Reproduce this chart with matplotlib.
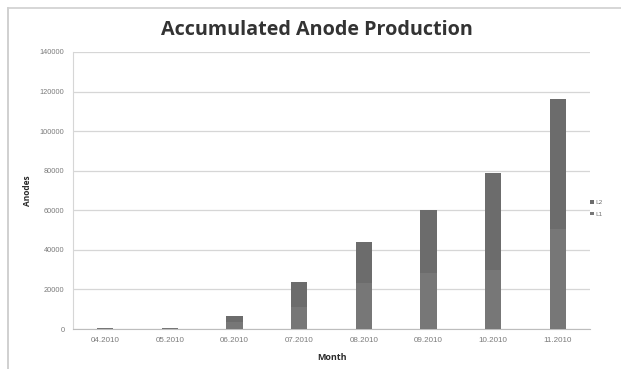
import matplotlib
matplotlib.use("Agg")
import matplotlib.pyplot as plt
import numpy as np
from matplotlib.lines import Line2D

# ==========================
# Data
# ==========================
months = ["04.2010", "05.2010", "06.2010", "07.2010",
          "08.2010", "09.2010", "10.2010", "11.2010"]
l1 = [300, 500, 3500, 11300, 23200, 28100, 29800, 50300]
l2 = [0, 100, 3200, 12400, 20900, 32000, 49200, 65700]
yticks = [0, 20000, 40000, 60000, 80000, 100000, 120000, 140000]

# ==========================
# Figure
# ==========================
fig = plt.figure(figsize=(6.21, 3.69), dpi=100)
fig.patch.set_facecolor("white")

# chart border (top and left edges)
fig.lines.append(Line2D([8 / 621, 8 / 621], [0, 361 / 369],
                        transform=fig.transFigure, color="#c8c8c8", lw=1.2))
fig.lines.append(Line2D([8 / 621, 1], [361 / 369, 361 / 369],
                        transform=fig.transFigure, color="#d0d0d0", lw=1.2))

ax = fig.add_axes([73 / 621, 40 / 369, 517 / 621, 277 / 369])

x = np.arange(len(months))
ax.bar(x, l1, width=0.25, color="#777777", label="L1", zorder=3)
ax.bar(x, l2, width=0.25, bottom=l1, color="#6c6c6c", label="L2", zorder=3)

ax.set_ylim(0, 140000)
ax.set_xlim(-0.5, len(months) - 0.5)
ax.set_yticks(yticks)
ax.set_yticklabels([str(v) for v in yticks], fontsize=5.3, color="#7a7a7a",
                   family="Liberation Sans")
ax.set_xticks(x)
ax.set_xticklabels(months, fontsize=5.8, color="#7a7a7a",
                   family="Liberation Sans")
ax.tick_params(length=0, pad=6)
ax.grid(axis="y", color="#d6d6d6", linewidth=0.9, zorder=0)

for side in ["top", "right"]:
    ax.spines[side].set_visible(False)
ax.spines["left"].set_color("#d6d6d6")
ax.spines["bottom"].set_color("#bdbdbd")

fig.text(317 / 621, 339 / 369, "Accumulated Anode Production",
         ha="center", va="center", fontsize=14.2, fontweight="bold",
         family="Open Sans", color="#333333")
ax.set_ylabel("Anodes", fontsize=6, fontweight="bold", family="Open Sans",
              color="#2a2a2a", labelpad=6)
ax.set_xlabel("Month", fontsize=6.5, fontweight="bold", family="Open Sans",
              color="#2a2a2a", labelpad=6)

handles, labels = ax.get_legend_handles_labels()
ax.legend(handles[::-1], labels[::-1], loc="center left",
          bbox_to_anchor=(0.99, 0.435), frameon=False, fontsize=4.5,
          handlelength=0.5, handleheight=0.5, handletextpad=0.3,
          labelspacing=1.0, labelcolor="#777777")

plt.savefig("out.png", dpi=100)
